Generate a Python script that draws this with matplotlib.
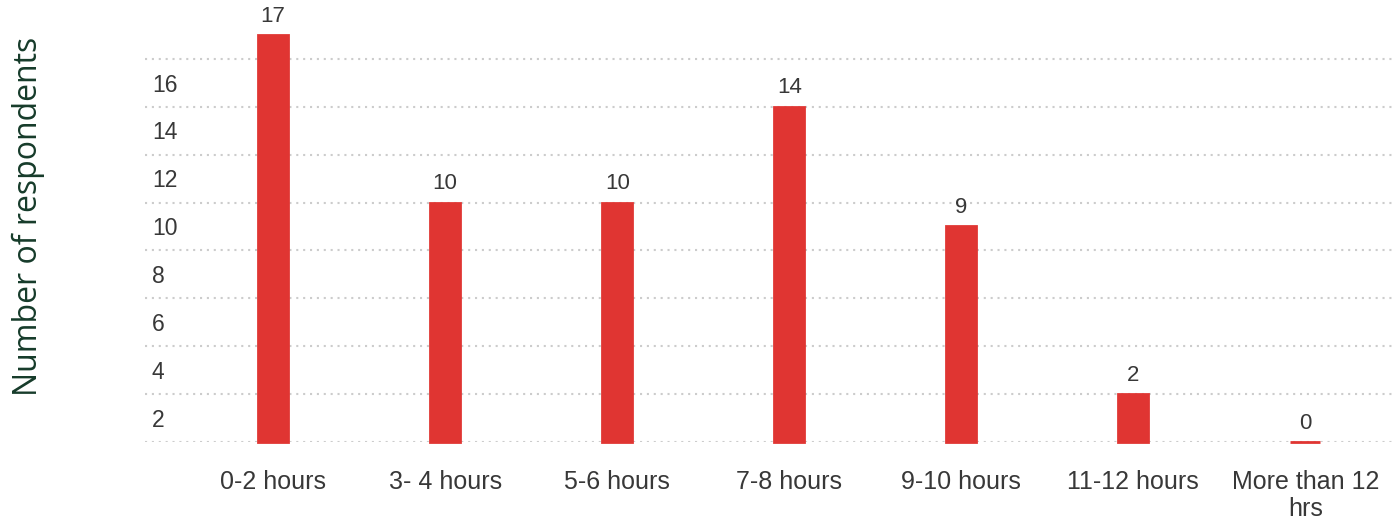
import matplotlib
matplotlib.use("Agg")
import matplotlib.pyplot as plt
from matplotlib.transforms import ScaledTranslation

categories = ["0-2 hours", "3- 4 hours", "5-6 hours", "7-8 hours",
              "9-10 hours", "11-12 hours", "More than 12\nhrs"]
respondents = [17, 10, 10, 14, 9, 2, 0]
ytick_values = [2, 4, 6, 8, 10, 12, 14, 16]
grid_values = [0, 2, 4, 6, 8, 10, 12, 14, 16]

bar_color = "#e03532"
text_color = "#383838"

fig = plt.figure(figsize=(13.93, 5.19), dpi=100)
ax = fig.add_axes([0.1041, 0.1484, 0.8959, 0.8304])

x = list(range(len(categories)))
bars = ax.bar(x, respondents, width=0.175, color=bar_color,
              edgecolor=bar_color, linewidth=2, zorder=3)
for b in bars:
    b.set_clip_on(False)

for xi, v in zip(x, respondents):
    ax.annotate(str(v), (xi, v), xytext=(0, 6), textcoords="offset points",
                ha="center", va="bottom", fontsize=16, color=text_color,
                family="Liberation Sans", annotation_clip=False)

ax.set_xlim(-0.745, 6.51)
ax.set_ylim(0, 18)

# dotted horizontal guides
for g in grid_values:
    ax.axhline(g, color="#cccccc", linestyle=(0, (1, 2.3)), linewidth=1.5,
               zorder=1)

ax.set_yticks(ytick_values)
ax.set_yticklabels([str(v) for v in ytick_values])
ax.tick_params(axis="y", length=0, pad=0, labelsize=16.5,
               labelcolor=text_color)
# labels sit just below their guide line, left-aligned inside the plot
shift = ScaledTranslation(5 / 72, -17 / 72, fig.dpi_scale_trans)
for lab in ax.get_yticklabels():
    lab.set_horizontalalignment("left")
    lab.set_family("Liberation Sans")
    lab.set_transform(lab.get_transform() + shift)

ax.set_xticks(x)
ax.set_xticklabels(categories, family="Liberation Sans", fontsize=18,
                   color=text_color, linespacing=1.15)
ax.tick_params(axis="x", length=0, pad=20)

for s in ax.spines.values():
    s.set_visible(False)

fig.text(0.0205, 0.584, "Number of respondents", rotation=90, ha="center",
         va="center", fontsize=23, color="#163b2a", family="Open Sans")

fig.savefig("out.png", dpi=100)
